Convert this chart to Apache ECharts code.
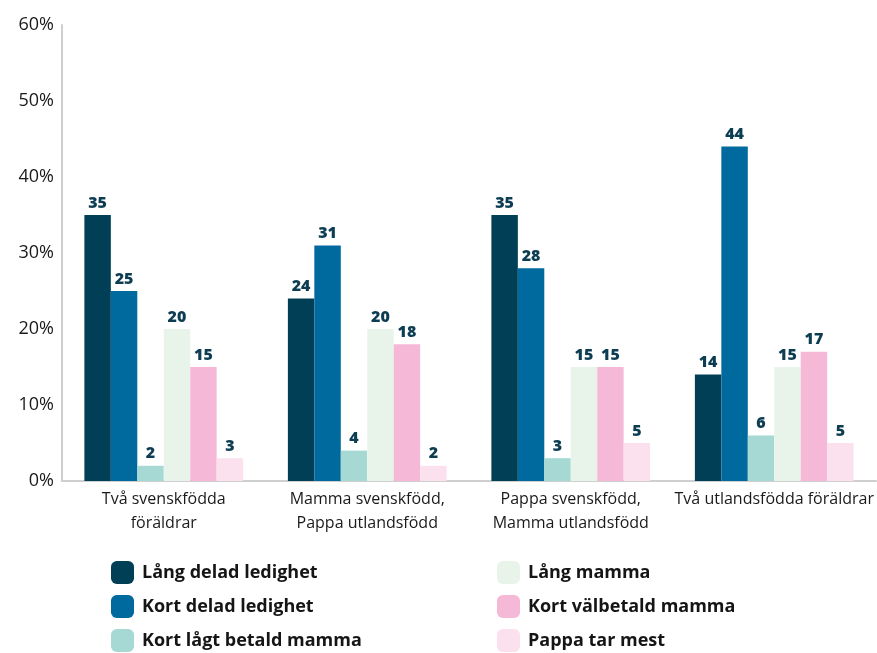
<!DOCTYPE html>
<html>
<head>
<meta charset="utf-8">
<script src="https://cdn.jsdelivr.net/npm/echarts@6/dist/echarts.min.js"></script>
<style>
  html, body { margin: 0; padding: 0; background: #fff; }
  #chart { width: 877px; height: 653px; }
</style>
</head>
<body>
<div id="chart"></div>
<script>
const categories = [
  'Två svenskfödda\nföräldrar',
  'Mamma svenskfödd,\nPappa utlandsfödd',
  'Pappa svenskfödd,\nMamma utlandsfödd',
  'Två utlandsfödda föräldrar'
]

const seriesNames = [
  'Lång delad ledighet',
  'Kort delad ledighet',
  'Kort lågt betald mamma',
  'Lång mamma',
  'Kort välbetald mamma',
  'Pappa tar mest'
]

const langDelad = [35, 24, 35, 14]
const kortDelad = [25, 31, 28, 44]
const kortLagt = [2, 4, 3, 6]
const langMamma = [20, 20, 15, 15]
const kortValbetald = [15, 18, 15, 17]
const pappaMest = [3, 2, 5, 5]

const seriesValues = [langDelad, kortDelad, kortLagt, langMamma, kortValbetald, pappaMest]

const colors = ['#003f56', '#00699d', '#a6d8d4', '#e8f4ea', '#f5b9d7', '#fbe1ee']

const font = '"Open Sans", Lato, sans-serif'

const chart = echarts.init(document.getElementById('chart'))

const legendCommon = {
  orient: 'vertical',
  icon: 'roundRect',
  itemWidth: 23,
  itemHeight: 23,
  itemGap: 11,
  padding: 0,
  height: 100,
  textStyle: { fontFamily: font, fontSize: 18, fontWeight: 'bold', color: '#151515', padding: [0, 0, 0, 3] }
}

chart.setOption({
  animation: false,
  color: colors,
  legend: [
    { ...legendCommon, left: 111, top: 561, data: seriesNames.slice(0, 3) },
    { ...legendCommon, left: 497, top: 561, data: seriesNames.slice(3) }
  ],
  grid: {
    left: 62,
    right: 1,
    top: 25,
    bottom: 172
  },
  xAxis: {
    type: 'category',
    data: categories,
    axisLine: { lineStyle: { color: '#cfcfcf', width: 2 } },
    axisTick: { show: false },
    axisLabel: {
      color: '#1a1a1a',
      fontFamily: font,
      fontSize: 16,
      lineHeight: 24,
      margin: 6,
      interval: 0
    }
  },
  yAxis: {
    type: 'value',
    min: 0,
    max: 60,
    interval: 10,
    axisLine: { show: true, lineStyle: { color: '#cfcfcf', width: 2 } },
    axisTick: { show: false },
    splitLine: { show: false },
    axisLabel: {
      formatter: '{value}%',
      color: '#1a1a1a',
      fontFamily: font,
      fontSize: 18,
      margin: 8
    }
  },
  series: seriesNames.map((name, i) => ({
    name: name,
    type: 'bar',
    data: seriesValues[i],
    barGap: '0%',
    barCategoryGap: '22%',
    label: {
      show: true,
      position: 'top',
      distance: 4,
      color: '#0d3d52',
      fontFamily: font,
      fontSize: 16,
      fontWeight: 800
    }
  }))
})
</script>
</body>
</html>
